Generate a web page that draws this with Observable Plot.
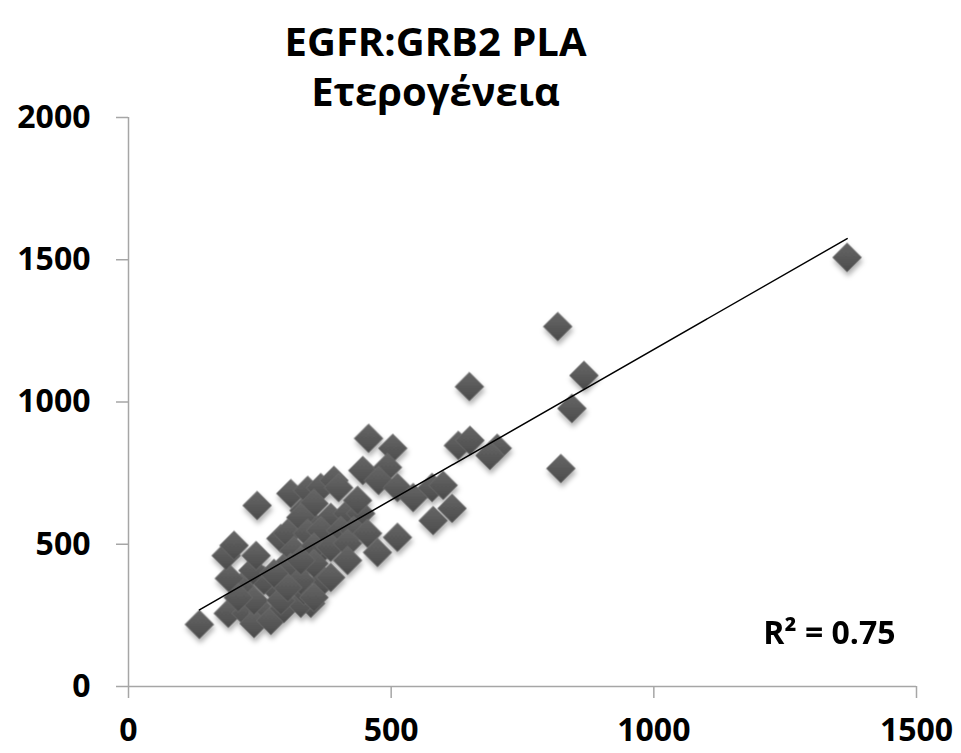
<!DOCTYPE html>
<html><head><meta charset="utf-8">
<script src="https://cdn.jsdelivr.net/npm/d3@7"></script>
<script src="https://cdn.jsdelivr.net/npm/@observablehq/plot@0.6"></script>
<style>body{margin:0;background:#fff}</style>
</head><body><div id="chart"></div>
<script>
const xValues = [135,190,224,256,239,271,296,347,328,334,277,214,239,290,258,192,237,186,201,243,245,209,296,341,372,372,290,309,347,334,309,341,366,391,353,328,385,417,442,303,341,366,404,429,315,353,385,417,309,353,385,328,303,353,277,417,457,503,446,493,476,512,542,578,580,512,474,436,400,455,328,599,616,628,650,702,688,649,817,867,844,823,1368];
const yValues = [218,257,257,260,221,232,274,292,292,337,348,348,302,302,373,380,408,460,496,460,636,313,418,443,489,373,520,548,573,619,678,689,699,724,643,594,594,608,608,538,538,548,548,548,478,489,489,503,418,432,383,373,348,313,397,443,872,837,759,770,724,699,664,699,583,524,471,654,699,538,443,707,626,847,865,837,812,1054,1265,1093,977,766,1508];
const xTicks = [0, 500, 1000, 1500];
const yTicks = [0, 500, 1000, 1500, 2000];
const titleLine1 = "EGFR:GRB2 PLA";
const titleLine2 = "Ετερογένεια";
const r2Label = "R² = 0.75";

const points = xValues.map((x, i) => ({x, y: yValues[i]}));
const font = "'Open Sans', sans-serif";

const svg = Plot.plot({
  width: 961, height: 753,
  marginLeft: 128, marginRight: 45, marginTop: 117, marginBottom: 67,
  style: {fontFamily: font, fontWeight: "bold", fontSize: "32px", color: "#000", background: "#fff"},
  x: {domain: [0, 1500]},
  y: {domain: [0, 2000]},
  marks: [
    Plot.ruleX([0], {stroke: "#a6a6a6", strokeWidth: 1.5}),
    Plot.ruleY([0], {stroke: "#a6a6a6", strokeWidth: 1.5}),
    Plot.axisY({ticks: yTicks, tickSize: 12, tickPadding: 26, stroke: "#a6a6a6", strokeWidth: 1.5, fill: "#000", fontSize: 32, fontWeight: "bold", tickFormat: d3.format("d"), label: null}),
    Plot.axisX({ticks: xTicks, tickSize: 12, tickPadding: 20, stroke: "#a6a6a6", strokeWidth: 1.5, fill: "#000", fontSize: 32, fontWeight: "bold", tickFormat: d3.format("d"), label: null}),
    Plot.dot(points, {x: "x", y: "y", symbol: "diamond2", r: 13, fill: "url(#dgrad)", stroke: "#6e6e6e", strokeWidth: 0.8}),
    Plot.linearRegressionY(points, {x: "x", y: "y", ci: 0, stroke: "#000", strokeWidth: 1.5}),
    Plot.text([titleLine1], {frameAnchor: "top-left", dx: 307, dy: -62, textAnchor: "middle", lineAnchor: "bottom", fontSize: 40, fontWeight: "bold", fill: "#000"}),
    Plot.text([titleLine2], {frameAnchor: "top-left", dx: 307, dy: -12, textAnchor: "middle", lineAnchor: "bottom", fontSize: 40, fontWeight: "bold", fill: "#000"}),
    Plot.text([r2Label], {frameAnchor: "bottom-right", dx: -21, dy: -43, textAnchor: "end", lineAnchor: "bottom", fontSize: 32, fontWeight: "bold", fill: "#000"})
  ]
});

const ns = "http://www.w3.org/2000/svg";
const defs = document.createElementNS(ns, "defs");
defs.innerHTML = '<linearGradient id="dgrad" x1="0" y1="0" x2="0" y2="1"><stop offset="0" stop-color="#676767"/><stop offset="1" stop-color="#4b4b4b"/></linearGradient>' +
  '<filter id="dshadow" x="-10%" y="-10%" width="130%" height="130%"><feDropShadow dx="1" dy="4" stdDeviation="2.5" flood-color="#000" flood-opacity="0.3"/></filter>';
svg.insertBefore(defs, svg.firstChild);
const dotG = svg.querySelector('g[aria-label="dot"]');
if (dotG) dotG.setAttribute("filter", "url(#dshadow)");
document.getElementById("chart").appendChild(svg);
</script>
</body></html>
